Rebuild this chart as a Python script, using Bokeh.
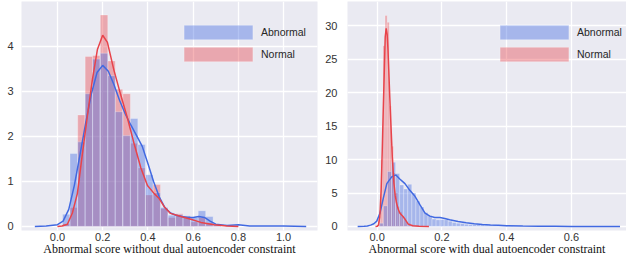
from bokeh.plotting import figure
from bokeh.layouts import row
from bokeh.models import Legend, LegendItem, FixedTicker, Range1d, NumeralTickFormatter
from bokeh.embed import file_html
from bokeh.resources import INLINE

# ---------------- data: left panel (without dual autoencoder constraint) ----------------
left_bin_centers = [0.039, 0.072, 0.106, 0.139, 0.172, 0.206, 0.239, 0.272, 0.306, 0.339,
                    0.372, 0.406, 0.439, 0.472, 0.506, 0.539, 0.572, 0.606, 0.639, 0.672, 0.706]
left_abnormal_hist = [0.27, 1.62, 1.88, 2.95, 3.72, 3.85, 3.35, 2.55, 2.02, 2.4,
                      1.82, 1.15, 0.75, 0.42, 0.25, 0.26, 0.24, 0.2, 0.35, 0.22, 0.05]
left_normal_hist = [0.06, 0.42, 2.48, 3.78, 3.8, 4.7, 3.68, 3.05, 2.95, 1.85,
                    1.3, 0.7, 0.93, 0.4, 0.2, 0.28, 0.22, 0.1, 0.2, 0.08, 0.03]

left_abnormal_kde_x = [-0.1, -0.05, 0.0, 0.025, 0.05, 0.075, 0.1, 0.125, 0.15, 0.175, 0.2, 0.225,
                       0.25, 0.275, 0.3, 0.325, 0.35, 0.375, 0.4, 0.425, 0.45, 0.475, 0.5, 0.525,
                       0.55, 0.575, 0.6, 0.625, 0.65, 0.675, 0.7, 0.75, 0.8, 0.85, 0.9, 1.0, 1.1]
left_abnormal_kde_y = [0.0, 0.01, 0.04, 0.12, 0.38, 0.92, 1.6, 2.3, 2.95, 3.42, 3.58, 3.45,
                       3.15, 2.8, 2.5, 2.25, 2.02, 1.78, 1.4, 1.0, 0.66, 0.42, 0.3, 0.25,
                       0.22, 0.2, 0.2, 0.22, 0.2, 0.12, 0.05, 0.02, 0.04, 0.01, 0.01, 0.01, 0.0]

left_normal_kde_x = [0.0, 0.02, 0.044, 0.066, 0.088, 0.11, 0.133, 0.155, 0.177, 0.2, 0.221, 0.25,
                     0.28, 0.31, 0.34, 0.369, 0.398, 0.428, 0.45, 0.472, 0.5, 0.546, 0.59, 0.634,
                     0.693, 0.75, 0.8]
left_normal_kde_y = [0.0, 0.01, 0.05, 0.3, 0.73, 1.6, 2.48, 3.28, 3.94, 4.25, 4.09, 3.47,
                     2.92, 2.4, 1.82, 1.3, 0.91, 0.73, 0.62, 0.44, 0.29, 0.22, 0.16, 0.09,
                     0.04, 0.01, 0.0]

# ---------------- data: right panel (with dual autoencoder constraint) ----------------
right_abnormal_centers = [0.0133, 0.0258, 0.0383, 0.0508, 0.0633, 0.0758, 0.0883, 0.1008, 0.1133,
                          0.1258, 0.1383, 0.1508, 0.1633, 0.1758, 0.1883, 0.2008, 0.2133, 0.2258,
                          0.2383, 0.2508, 0.2633, 0.2758, 0.2883, 0.3008, 0.3133, 0.3258, 0.3383,
                          0.3508, 0.3633, 0.3758, 0.3883, 0.4008, 0.4133, 0.4258, 0.4383]
right_abnormal_hist = [0.5, 3.1, 8.2, 9.6, 7.9, 6.2, 5.6, 6.3, 5.0,
                       3.8, 2.9, 2.1, 1.6, 1.1, 1.0, 1.05, 1.0, 0.8,
                       0.6, 0.5, 0.45, 0.35, 0.3, 0.3, 0.3, 0.25, 0.2,
                       0.2, 0.25, 0.2, 0.15, 0.1, 0.08, 0.05, 0.05]

right_normal_centers = [0.0083, 0.0148, 0.0213, 0.0278, 0.0343, 0.0408, 0.0473, 0.0538, 0.0603,
                        0.0668, 0.0733, 0.0798, 0.0863, 0.0928, 0.0993, 0.1058, 0.1123, 0.1188,
                        0.1253, 0.1318, 0.1383, 0.1448, 0.1513]
right_normal_hist = [1.5, 10.0, 27.0, 31.5, 30.5, 18.0, 12.0, 8.0, 5.0,
                     3.0, 2.2, 1.6, 1.2, 0.7, 0.5, 0.3, 0.25, 0.2,
                     0.15, 0.1, 0.1, 0.05, 0.05]

right_abnormal_kde_x = [-0.06, -0.04, -0.03, -0.02, -0.01, -0.001, 0.009, 0.019, 0.03, 0.045, 0.058,
                        0.07, 0.086, 0.101, 0.117, 0.132, 0.148, 0.163, 0.178, 0.194, 0.209, 0.224,
                        0.25, 0.275, 0.3, 0.325, 0.35, 0.375, 0.4, 0.45, 0.5, 0.55, 0.6, 0.65, 0.7, 0.75]
right_abnormal_kde_y = [0.0, 0.03, 0.08, 0.2, 0.4, 0.8, 2.0, 4.2, 6.4, 7.4, 7.7,
                        7.1, 6.4, 5.4, 4.5, 3.25, 2.0, 1.55, 1.35, 1.35, 1.2, 1.0,
                        0.75, 0.55, 0.4, 0.3, 0.22, 0.2, 0.12, 0.06, 0.03, 0.02, 0.01, 0.01, 0.005, 0.0]

right_normal_kde_x = [-0.005, 0.0, 0.004, 0.0085, 0.0125, 0.0157, 0.0185, 0.021, 0.025, 0.028, 0.031,
                      0.0335, 0.036, 0.039, 0.042, 0.047, 0.052, 0.056, 0.06, 0.065, 0.07, 0.08,
                      0.086, 0.096, 0.11, 0.13, 0.16]
right_normal_kde_y = [0.0, 0.02, 0.2, 1.5, 5.5, 11.0, 16.5, 21.0, 28.3, 29.6, 28.7,
                      26.5, 23.4, 19.5, 16.0, 10.3, 6.4, 4.6, 3.5, 2.6, 2.0, 1.5,
                      1.1, 0.35, 0.1, 0.03, 0.0]

left_xticks = [0.0, 0.2, 0.4, 0.6, 0.8, 1.0]
left_yticks = [0, 1, 2, 3, 4]
right_xticks = [0.0, 0.2, 0.4, 0.6, 0.8]
right_yticks = [0, 5, 10, 15, 20, 25, 30]
series_labels = ["Abnormal", "Normal"]
xlabels = ["Abnormal score without dual autoencoder constraint",
           "Abnormal score with dual autoencoder constraint"]

BLUE = "#4169E1"
RED = "#E8434A"
BG = "#EAEAF2"


def panel(width, border_left, border_right, xr, yr, xticks, yticks, ab_c, ab_h, no_c, no_h,
          ab_kx, ab_ky, no_kx, no_ky, xlabel, leg_loc, ystandoff):
    p = figure(width=width, height=258, output_backend="svg", toolbar_location=None,
               x_range=Range1d(*xr), y_range=Range1d(*yr),
               min_border_left=border_left, min_border_right=border_right,
               min_border_top=1, min_border_bottom=0)
    p.background_fill_color = BG
    p.border_fill_color = "white"
    p.outline_line_color = None
    p.grid.grid_line_color = "white"
    p.grid.grid_line_width = 1.3
    p.xaxis.ticker = FixedTicker(ticks=xticks)
    p.yaxis.ticker = FixedTicker(ticks=yticks)
    p.xaxis.formatter = NumeralTickFormatter(format="0.0")
    for ax in (p.xaxis[0], p.yaxis[0]):
        ax.axis_line_color = None
        ax.major_tick_line_color = None
        ax.minor_tick_line_color = None
        ax.major_tick_out = 0
        ax.major_tick_in = 0
        ax.minor_tick_out = 0
        ax.minor_tick_in = 0
        ax.major_label_text_font = "Liberation Sans"
        ax.major_label_text_font_size = "11px"
        ax.major_label_text_color = "#333333"
    p.xaxis.major_label_standoff = 2
    p.yaxis.major_label_standoff = ystandoff
    p.xaxis.axis_label = xlabel
    p.xaxis.axis_label_text_font = "Liberation Serif"
    p.xaxis.axis_label_text_font_style = "normal"
    p.xaxis.axis_label_text_font_size = "12px"
    p.xaxis.axis_label_text_color = "#111111"
    p.xaxis.axis_label_standoff = -2

    wa = ab_c[1] - ab_c[0]
    wn = no_c[1] - no_c[0]
    rr = p.vbar(x=no_c, top=no_h, width=wn, fill_color=RED, fill_alpha=0.4,
                line_color="white", line_alpha=0.35, line_width=0.8)
    rb = p.vbar(x=ab_c, top=ab_h, width=wa, fill_color=BLUE, fill_alpha=0.4,
                line_color="white", line_alpha=0.35, line_width=0.8)
    p.line(ab_kx, ab_ky, line_color=BLUE, line_width=1.5)
    p.line(no_kx, no_ky, line_color=RED, line_width=1.5)

    legend = Legend(items=[LegendItem(label=series_labels[0], renderers=[rb]),
                           LegendItem(label=series_labels[1], renderers=[rr])],
                    location=leg_loc, glyph_width=86, glyph_height=18, label_height=18,
                    spacing=4, padding=0, margin=0, border_line_color=None,
                    background_fill_alpha=0, label_standoff=-4,
                    label_text_font="Liberation Sans", label_text_font_size="10.5px",
                    label_text_color="#262626")
    p.add_layout(legend)
    return p


p1 = panel(322, 21, 5, (-0.159, 1.15), (-0.09, 5.0), left_xticks, left_yticks,
           left_bin_centers, left_abnormal_hist, left_bin_centers, left_normal_hist,
           left_abnormal_kde_x, left_abnormal_kde_y, left_normal_kde_x, left_normal_kde_y,
           xlabels[0], (154, 167), 8)
p2 = panel(304, 24, 0, (-0.0914, 0.770), (-0.6, 33.6), right_xticks, right_yticks,
           right_abnormal_centers, right_abnormal_hist, right_normal_centers, right_normal_hist,
           right_abnormal_kde_x, right_abnormal_kde_y, right_normal_kde_x, right_normal_kde_y,
           xlabels[1], (144, 167), 10)

layout = row(p1, p2)
open("out.html", "w").write(file_html(layout, INLINE))
